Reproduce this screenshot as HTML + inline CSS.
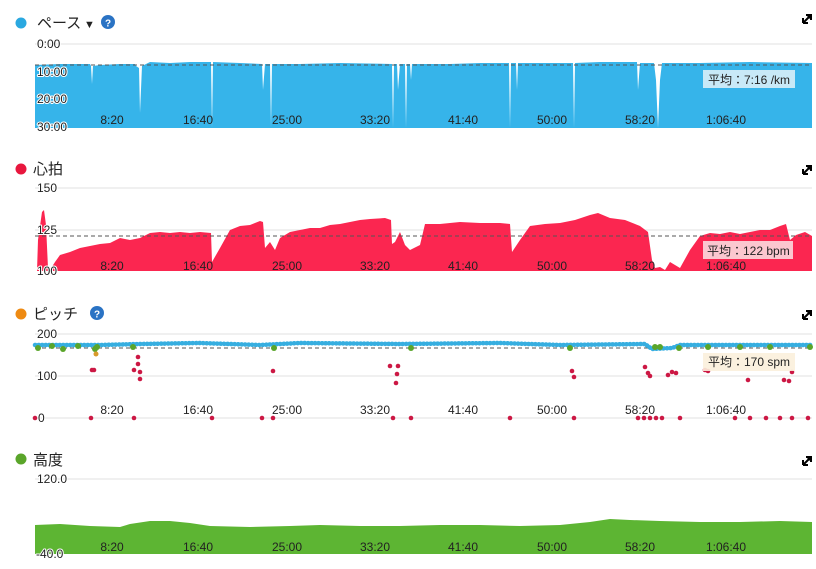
<!DOCTYPE html>
<html><head><meta charset="utf-8"><style>
body{margin:0;background:#fff;width:816px;height:569px;overflow:hidden;font-family:"Liberation Sans","Noto Sans CJK JP",sans-serif}
svg{position:absolute;left:0;top:0}
.h text{paint-order:stroke;stroke:#fff;stroke-width:2px;stroke-linejoin:round}
</style></head><body>
<svg width="816" height="569" viewBox="0 0 816 569" font-family="Liberation Sans, Noto Sans CJK JP, sans-serif">
<!-- PACE -->
<circle cx="21" cy="23" r="5.5" fill="#2aa8e0"/>
<text x="37" y="28" font-size="15" fill="#222">ペース</text>
<text x="84" y="28" font-size="11" fill="#222">▼</text>
<circle cx="108" cy="22" r="7" fill="#2a73c4"/><text x="108" y="26.5" font-size="10" font-weight="bold" fill="#fff" text-anchor="middle">?</text>
<g stroke="#000" stroke-width="2"><path d="M803 23l8-8M806 15h5v5M803 23v-5M803 23h5"/></g>
<line x1="35" y1="44" x2="812" y2="44" stroke="#e2e2e2"/>
<path d="M35 128V65L60 64 90 64 91 66 92 84 93 66 100 65 120 64 135 64 136 66 139 68 140 113 142 66 150 62 170 63 190 62 211 62 212 128 213 62 240 63 262 64 263 90 265 64 270 64 271 128 272 64 300 64 340 63 392 64 393 128 394 64 397 64 398 90 400 64 405 64 406 128 407 64 410 64 411 80 412 64 450 64 480 63 509 63 510 128 511 63 516 63 517 90 518 63 540 63 573 63 574 128 575 63 600 62 637 62 638 90 640 63 654 63 656 80 658 128 660 80 662 63 700 63 750 62 812 63V128Z" fill="#36b4ea"/>
<line x1="35" y1="65" x2="812" y2="65" stroke="#555" stroke-dasharray="4,3"/>
<g class="h" font-size="12" fill="#222"><text x="37" y="48">0:00</text><text x="37" y="76">10:00</text><text x="37" y="103">20:00</text><text x="37" y="131">30:00</text></g>
<rect x="703" y="70" width="92" height="18" fill="#d8eef8" opacity=".9"/><text x="708" y="84" font-size="12" fill="#222">平均：7:16 /km</text>
<g font-size="12" fill="#222" text-anchor="middle"><text x="112" y="124">8:20</text><text x="198" y="124">16:40</text><text x="287" y="124">25:00</text><text x="375" y="124">33:20</text><text x="463" y="124">41:40</text><text x="552" y="124">50:00</text><text x="640" y="124">58:20</text><text x="726" y="124">1:06:40</text></g>
<!-- HR -->
<circle cx="21" cy="169" r="5.5" fill="#e8173e"/>
<text x="33" y="174" font-size="15" fill="#222">心拍</text>
<g stroke="#000" stroke-width="2"><path d="M803 174l8-8M806 166h5v5M803 174v-5M803 174h5"/></g>
<line x1="35" y1="188" x2="812" y2="188" stroke="#e2e2e2"/>
<line x1="35" y1="230" x2="812" y2="230" stroke="#e2e2e2"/>
<path d="M37 271L38 240 42 212 44 210 46 225 48 268 50 270 55 262 60 255 70 252 80 248 90 246 100 244 110 243 120 238 130 240 140 238 150 233 160 232 170 233 180 232 190 233 200 232 211 233 212 262 220 248 230 230 240 226 250 225 260 221 263 222 265 248 270 242 275 250 280 238 290 232 300 230 310 228 320 228 330 225 340 224 350 222 360 220 370 219 385 218 391 220 392 244 395 242 400 232 405 245 410 250 420 245 425 224 440 224 460 222 480 223 500 223 510 224 512 252 520 240 530 226 545 224 560 223 575 220 590 215 598 213 610 218 625 220 640 226 648 232 652 260 655 268 660 267 665 270 670 262 675 265 680 268 690 250 700 236 710 233 720 234 730 232 740 234 750 232 760 230 770 230 780 226 786 224 790 240 796 235 805 232 812 236V271Z" fill="#fb2650"/>
<line x1="35" y1="236" x2="812" y2="236" stroke="#555" stroke-dasharray="4,3"/>
<g class="h" font-size="12" fill="#222"><text x="37" y="192">150</text><text x="37" y="234">125</text><text x="37" y="275">100</text></g>
<rect x="703" y="241" width="90" height="18" fill="#fbd0d6" opacity=".95"/><text x="707" y="255" font-size="12" fill="#222">平均：122 bpm</text>
<g font-size="12" fill="#222" text-anchor="middle"><text x="112" y="270">8:20</text><text x="198" y="270">16:40</text><text x="287" y="270">25:00</text><text x="375" y="270">33:20</text><text x="463" y="270">41:40</text><text x="552" y="270">50:00</text><text x="640" y="270">58:20</text><text x="726" y="270">1:06:40</text></g>
<!-- PITCH -->
<circle cx="21" cy="314" r="5.5" fill="#ee8a12"/>
<text x="33" y="319" font-size="15" fill="#222">ピッチ</text>
<circle cx="97" cy="313" r="7" fill="#2a73c4"/><text x="97" y="317.5" font-size="10" font-weight="bold" fill="#fff" text-anchor="middle">?</text>
<g stroke="#000" stroke-width="2"><path d="M803 319l8-8M806 311h5v5M803 319v-5M803 319h5"/></g>
<line x1="35" y1="334" x2="812" y2="334" stroke="#e2e2e2"/>
<line x1="35" y1="376" x2="812" y2="376" stroke="#e2e2e2"/>
<line x1="35" y1="418" x2="812" y2="418" stroke="#e2e2e2"/>
<line x1="35" y1="348" x2="812" y2="348" stroke="#555" stroke-dasharray="4,3"/>
<polyline points="35,345 100,345 140,344 200,343 260,345 300,343 400,344 500,343 560,345 645,344 652,349 672,348 680,345 720,345 760,345 812,345" fill="none" stroke="#36aee0" stroke-width="4.5" stroke-linecap="round" stroke-dasharray="0.5,3"/>
<g fill="#5aa52a"><circle cx="38" cy="348" r="3"/><circle cx="52" cy="346" r="3"/><circle cx="63" cy="349" r="3"/><circle cx="78" cy="346" r="3"/><circle cx="95" cy="349" r="3"/><circle cx="97" cy="347" r="3"/><circle cx="133" cy="347" r="3"/><circle cx="274" cy="348" r="3"/><circle cx="411" cy="348" r="3"/><circle cx="570" cy="348" r="3"/><circle cx="655" cy="347" r="3"/><circle cx="660" cy="347" r="3"/><circle cx="679" cy="348" r="3"/><circle cx="708" cy="347" r="3"/><circle cx="740" cy="347" r="3"/><circle cx="770" cy="347" r="3"/><circle cx="810" cy="347" r="3"/></g>
<circle cx="96" cy="354" r="2.5" fill="#d89a2a"/>
<g fill="#cc1844"><circle cx="92" cy="370" r="2.3"/><circle cx="94" cy="370" r="2.3"/><circle cx="134" cy="370" r="2.3"/><circle cx="138" cy="357" r="2.3"/><circle cx="138" cy="364" r="2.3"/><circle cx="140" cy="372" r="2.3"/><circle cx="140" cy="379" r="2.3"/><circle cx="273" cy="371" r="2.3"/><circle cx="390" cy="366" r="2.3"/><circle cx="398" cy="366" r="2.3"/><circle cx="397" cy="374" r="2.3"/><circle cx="396" cy="383" r="2.3"/><circle cx="572" cy="371" r="2.3"/><circle cx="574" cy="377" r="2.3"/><circle cx="645" cy="367" r="2.3"/><circle cx="648" cy="373" r="2.3"/><circle cx="650" cy="376" r="2.3"/><circle cx="668" cy="375" r="2.3"/><circle cx="672" cy="372" r="2.3"/><circle cx="676" cy="373" r="2.3"/><circle cx="705" cy="370" r="2.3"/><circle cx="708" cy="371" r="2.3"/><circle cx="748" cy="380" r="2.3"/><circle cx="784" cy="380" r="2.3"/><circle cx="792" cy="372" r="2.3"/><circle cx="789" cy="381" r="2.3"/>
<circle cx="35" cy="418" r="2.3"/><circle cx="91" cy="418" r="2.3"/><circle cx="134" cy="418" r="2.3"/><circle cx="212" cy="418" r="2.3"/><circle cx="262" cy="418" r="2.3"/><circle cx="273" cy="418" r="2.3"/><circle cx="393" cy="418" r="2.3"/><circle cx="411" cy="418" r="2.3"/><circle cx="510" cy="418" r="2.3"/><circle cx="574" cy="418" r="2.3"/><circle cx="638" cy="418" r="2.3"/><circle cx="644" cy="418" r="2.3"/><circle cx="650" cy="418" r="2.3"/><circle cx="656" cy="418" r="2.3"/><circle cx="662" cy="418" r="2.3"/><circle cx="680" cy="418" r="2.3"/><circle cx="735" cy="418" r="2.3"/><circle cx="750" cy="418" r="2.3"/><circle cx="766" cy="418" r="2.3"/><circle cx="780" cy="418" r="2.3"/><circle cx="792" cy="418" r="2.3"/><circle cx="808" cy="418" r="2.3"/></g>
<g class="h" font-size="12" fill="#222"><text x="37" y="338">200</text><text x="37" y="380">100</text><text x="38" y="422">0</text></g>
<rect x="703" y="353" width="92" height="18" fill="#fbf0dc" opacity=".9"/><text x="708" y="366" font-size="12" fill="#222">平均：170 spm</text>
<g font-size="12" fill="#222" text-anchor="middle"><text x="112" y="414">8:20</text><text x="198" y="414">16:40</text><text x="287" y="414">25:00</text><text x="375" y="414">33:20</text><text x="463" y="414">41:40</text><text x="552" y="414">50:00</text><text x="640" y="414">58:20</text><text x="726" y="414">1:06:40</text></g>
<!-- ALT -->
<circle cx="21" cy="459" r="5.5" fill="#5aa52a"/>
<text x="33" y="465" font-size="15" fill="#222">高度</text>
<g stroke="#000" stroke-width="2"><path d="M803 465l8-8M806 457h5v5M803 465v-5M803 465h5"/></g>
<line x1="35" y1="479" x2="812" y2="479" stroke="#e2e2e2"/>
<path d="M35 554V525L60 524 90 526 120 527 130 524 150 521 170 521 190 523 210 526 250 527 290 526 320 525 360 526 400 526 440 525 480 525 520 526 560 525 590 522 610 519 630 520 660 521 700 522 740 522 780 521 812 522V554Z" fill="#5db533"/>
<g class="h" font-size="12" fill="#222"><text x="37" y="483">120.0</text><text x="36" y="558">-40.0</text></g>
<g font-size="12" fill="#222" text-anchor="middle"><text x="112" y="551">8:20</text><text x="198" y="551">16:40</text><text x="287" y="551">25:00</text><text x="375" y="551">33:20</text><text x="463" y="551">41:40</text><text x="552" y="551">50:00</text><text x="640" y="551">58:20</text><text x="726" y="551">1:06:40</text></g>
</svg>
</body></html>
